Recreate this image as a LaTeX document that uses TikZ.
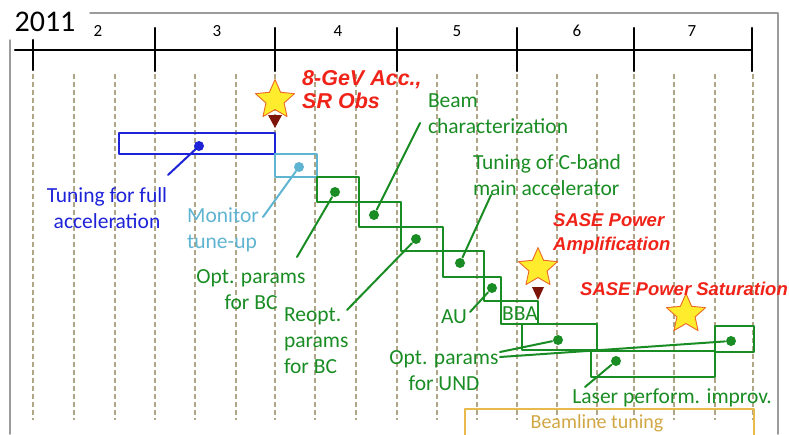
\documentclass[tikz,border=0pt]{standalone}
\usepackage{fontspec}
\setmainfont{Carlito}
\newfontfamily\boldred{Liberation Sans}
\usetikzlibrary{shapes.geometric}
\definecolor{planblue}{RGB}{30,35,215}
\definecolor{plancyan}{RGB}{95,180,210}
\definecolor{plangreen}{RGB}{25,140,35}
\definecolor{planred}{RGB}{240,35,25}
\definecolor{gridline}{RGB}{175,165,135}
\definecolor{framegray}{RGB}{155,155,155}
\definecolor{beamorange}{RGB}{232,185,75}
\definecolor{flagred}{RGB}{125,20,10}
\definecolor{staryellow}{RGB}{255,236,45}
\definecolor{staredge}{RGB}{235,105,35}
\tikzset{
  dot/.style={circle, fill, inner sep=0pt, minimum size=10pt},
  txt/.style={inner sep=0pt, align=center, font=\fontsize{21.5}{26}\selectfont},
  txtl/.style={txt, align=left, anchor=west},
  milestone/.style={font=\boldred\bfseries\itshape\fontsize{18.5}{24}\selectfont, text=planred, inner sep=0pt, align=left, anchor=west},
  event/.style={star, star points=5, star point ratio=2.15, minimum size=41pt, inner sep=0pt, fill=staryellow, draw=staredge, line width=0.9pt}
}
\begin{document}
\begin{tikzpicture}[x=1pt, y=-1pt, line join=round, line cap=round]
\useasboundingbox (0,0) rectangle (789,434);
% frame and time axis
\draw[framegray, line width=1.5pt] (90,13)--(778,13)--(778,434) (10,40)--(10,434);
\foreach \x in {33,74,115,155,195,236,275,315,356,397,437,477,517,557,597,634,674,715,753}
  \draw[gridline, line width=1.1pt, line cap=butt, dash pattern=on 5pt off 3pt] (\x,74)--(\x,420);
\draw[line width=2.2pt] (15,50)--(752,50) (33,40)--(33,70);
\foreach \x in {155,275,397,517,634,752} \draw[line width=2.2pt] (\x,28)--(\x,71);
\node (yr) at (45,22)[font=\fontsize{30}{30}\selectfont] {2011};
\foreach \m/\x in {2/98,3/217,4/338,5/457,6/577,7/692}
  \node (mo\m) at (\x,31)[font=\fontsize{17}{17}\selectfont] {\m};
% task boxes
\draw[planblue, line width=2pt] (119,133) rectangle (275,154);
\draw[plancyan, line width=2pt] (275,154) rectangle (317,177);
\draw[plangreen, line width=2pt] (317,177) rectangle (359,202) (359,202) rectangle (401,227)
  (401,227) rectangle (443,251) (443,251) rectangle (484,277) (484,277) rectangle (501,301)
  (501,301) rectangle (538,324) (522,324) rectangle (597,350) (591,351) rectangle (715,377)
  (715,326) rectangle (754,352);
\draw[beamorange, line width=2pt] (465,440)--(465,409)--(754,409)--(754,440);
% milestones
\node[event] (accstar) at (275,100) {};
\node[event] (ampstar) at (538,268) {};
\node[event] (satstar) at (686,314) {};
\fill[flagred] (268,115)--(282,115)--(275,128)--cycle (532,287)--(544,287)--(538,300)--cycle;
\node[milestone, font=\boldred\bfseries\itshape\fontsize{21.5}{23}\selectfont] (accl) at (302,89.5) {8-GeV Acc.,\\SR Obs};
\node[milestone] (ampl) at (553,234) {SASE Power\\Amplification};
\node[milestone] (satl) at (580,289) {SASE Power Saturation};
% blue and cyan tasks
\node[dot, planblue] (fullD) at (199,146) {};
\node[txt, text=planblue] (fullL) at (107,208.5) {Tuning for full\\acceleration};
\coordinate (fullE) at (168,175);
\draw[planblue, line width=2pt] (fullD)--(fullE);
\node[dot, plancyan] (monD) at (299,167) {};
\node[txtl, text=plancyan] (monL) at (187,230) {Monitor\\tune-up};
\coordinate (monE) at (263,217);
\draw[plancyan, line width=2pt] (monD)--(monE);
% green tasks
\begin{scope}[plangreen, line width=2pt]
\node[dot] (bcD) at (335,192) {};
\node[dot] (charD) at (374,215) {};
\node[dot] (rebcD) at (416,239) {};
\node[dot] (cbandD) at (460,263) {};
\node[dot] (auD) at (492,288) {};
\node[dot] (und1D) at (558,340) {};
\node[dot] (laserD) at (616,361) {};
\node[dot] (und2D) at (731,341) {};
\node[txt] (bcL) at (251,289.5) {Opt. params\\for BC};
\node[txtl] (charL) at (427,113.5) {Beam\\characterization};
\node[txtl] (rebcL) at (283,341) {Reopt.\\params\\for BC};
\node[txtl] (cbandL) at (472,175) {Tuning of C-band\\main accelerator};
\node[txtl] (auL) at (440,317) {AU};
\node[txt] (bbaL) at (520,314) {BBA};
\node[txt] (undL) at (444,370.5) {Opt. params\\for UND};
\node[txt] (laserL) at (672,398) {Laser perform. improv.};
\coordinate (bcE) at (297,257);
\coordinate (charE) at (420,123);
\coordinate (rebcE) at (347,310);
\coordinate (cbandE) at (491,195);
\coordinate (auE) at (470,312);
\coordinate (und1E) at (500,352);
\coordinate (und2E) at (500,357);
\coordinate (laserE) at (585,387);
\draw (bcD)--(bcE) (charD)--(charE) (rebcD)--(rebcE) (cbandD)--(cbandE) (auD)--(auE)
  (und1D)--(und1E) (und2D)--(und2E) (laserD)--(laserE);
\end{scope}
\node (beamL) at (597,423)[font=\fontsize{20}{20}\selectfont, text=beamorange!90!black] {Beamline tuning};
\end{tikzpicture}
\end{document}
